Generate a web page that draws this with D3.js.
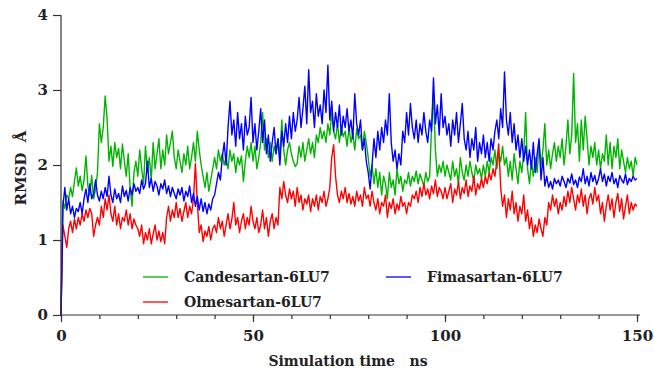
<!DOCTYPE html>
<html>
<head>
<meta charset="utf-8">
<script src="https://cdn.jsdelivr.net/npm/d3@7"></script>
<style>
  body { margin: 0; background: #fff; }
  text { font-family: "DejaVu Serif", serif; font-weight: bold; fill: #222; }
</style>
</head>
<body>
<svg id="chart" width="654" height="369"></svg>
<script>
// RMSD traces, one value every 0.5 ns (rows = 10 ns)
const step = 0.5;

const candesartan = [
  0, 1.52, 1.42, 1.6, 1.55, 1.7, 1.58, 1.78, 1.96, 1.72, 1.85, 1.66, 1.8, 2.12, 1.72, 1.6, 1.86, 1.55, 1.68, 1.9,
  2.55, 2.3, 2.5, 2.92, 2.62, 2.05, 2.25, 1.98, 2.3, 2.1, 2.22, 1.95, 2.28, 2.05, 1.85, 2.15, 1.7, 1.45, 1.9, 2.05,
  1.85, 2.2, 1.95, 1.75, 2.25, 1.9, 2.1, 1.8, 2.3, 1.95, 2.15, 2.35, 1.95, 2.2, 2.0, 2.4, 2.15, 2.3, 2.45, 2.1,
  1.95, 2.2, 2.05, 1.9, 2.15, 2.0, 2.25, 1.95, 2.1, 2.3, 2.05, 2.45, 2.2, 2.0, 1.85, 1.7, 1.9, 1.65, 1.8, 1.95,
  2.1, 1.95, 2.2, 2.05, 2.15, 2.0, 2.1, 1.95, 2.2, 2.05, 2.15, 1.9, 2.1, 2.0, 2.12, 1.78, 2.05, 2.25, 2.1, 2.3,
  2.05, 2.25, 1.95, 2.1, 2.3, 2.7, 2.2, 2.35, 2.1, 2.3, 2.05, 2.25, 2.15, 2.35, 2.1, 2.6, 2.2, 2.0, 2.2, 2.3,
  2.15, 2.05, 1.98, 2.02, 2.25, 2.1, 2.3, 2.05, 2.2, 2.35, 2.15, 2.3, 2.1, 2.4, 2.3, 2.5, 2.35, 2.45, 2.3, 2.55,
  2.4, 2.7, 2.45, 2.35, 2.55, 2.3, 2.5, 2.38, 2.45, 2.25, 2.5, 2.3, 2.42, 2.2, 2.48, 2.35, 2.4, 2.2, 2.45, 2.3,
  2.1, 1.85, 2.0, 1.75, 1.95, 1.7, 1.9, 1.6, 1.85, 1.75, 1.55, 1.9, 1.7, 1.8, 1.6, 1.95, 1.75, 1.85, 1.65, 1.8,
  1.75, 1.9, 1.72, 1.85, 1.78, 1.92, 1.75, 1.88, 1.8, 1.72, 1.9, 1.78, 1.85, 2.5, 2.95, 2.2, 1.85, 2.0, 1.9, 2.05,
  1.85, 2.0, 1.9, 1.8, 2.05, 1.85, 1.95, 1.75, 2.1, 1.9, 1.8, 2.0, 1.85, 2.05, 1.9, 1.78, 2.0, 1.88, 1.95, 1.82,
  2.0, 1.85, 2.05, 1.9, 2.1, 2.0, 2.2, 1.95, 2.15, 2.05, 2.25, 2.0, 2.1, 1.85, 2.05, 1.8, 2.15, 1.95, 1.75, 2.05,
  1.9, 2.15, 2.7, 1.95, 1.75, 2.05, 1.85, 2.1, 1.9, 2.3, 2.0, 2.2, 2.55, 2.0, 2.2, 1.95, 2.15, 2.3, 2.05, 2.25,
  2.1, 2.35, 2.0, 2.25, 2.6, 2.15, 2.4, 3.22, 2.3, 2.55, 2.05, 2.6, 2.2, 2.65, 2.35, 2.0, 2.25, 2.1, 2.3, 2.0,
  2.2, 1.95, 2.15, 2.05, 2.4, 2.0, 2.3, 1.95, 2.25, 2.1, 2.35, 1.95, 2.2, 2.05, 1.9, 2.1, 1.95, 2.05, 1.85, 2.1,
  2.0
];

const fimasartan = [
  0, 1.45, 1.7, 1.4, 1.55, 1.35, 1.45, 1.3, 1.42, 1.38, 1.5, 1.35, 1.55, 1.68, 1.5, 1.75, 1.55, 1.62, 1.8, 1.6,
  1.52, 1.65, 1.55, 1.7, 1.58, 1.85, 1.6, 1.5, 1.68, 1.55, 1.62, 1.5, 1.72, 1.58, 1.66, 1.52, 1.7, 1.6, 1.75, 1.65,
  1.7, 1.62, 1.8, 1.68, 1.75, 2.05, 1.7, 1.82, 1.65, 1.78, 1.72, 1.6, 1.75, 1.68, 1.8, 1.62, 1.72, 1.58, 1.7, 1.62,
  1.55, 1.68, 1.6, 1.7, 1.52, 1.65, 1.58, 1.72, 1.5, 1.62, 1.45, 1.58, 1.4, 1.55, 1.38, 1.5, 1.35, 1.48, 1.4, 1.55,
  1.6, 1.75, 1.9, 1.8, 2.1, 2.3, 2.0, 2.5, 2.85, 2.4, 2.6, 2.25, 2.7, 2.35, 2.55, 2.2, 2.65, 2.4, 2.5, 2.9,
  2.3, 2.55, 2.2, 2.45, 2.75, 2.3, 2.6, 2.15, 2.4, 2.05, 2.3, 2.5, 2.15, 2.35, 2.0, 2.45, 2.25, 2.55, 2.3, 2.65,
  2.35, 2.7, 2.45, 2.6, 2.9, 2.5, 2.75, 3.05, 2.55, 3.27, 2.7, 2.85, 2.5, 2.95, 2.65, 2.8, 2.55, 3.0, 2.7, 3.33,
  2.6, 2.85, 2.45, 2.7, 2.5, 2.8, 2.4, 2.65, 2.5, 2.75, 2.45, 2.6, 2.35, 2.95, 2.55, 2.4, 2.6, 2.2, 2.35, 2.05,
  1.9, 1.68, 2.0, 2.35, 2.1, 2.45, 2.2, 2.5, 2.3, 2.6, 2.4, 2.95, 2.3, 2.05, 2.2, 1.95, 2.15, 2.0, 2.45, 2.3,
  2.7, 2.4, 2.82, 2.5, 2.35, 2.6, 2.3, 2.55, 2.4, 2.7, 2.45, 2.3, 2.6, 2.45, 3.16, 2.55, 2.8, 2.4, 2.95, 2.5,
  2.65, 2.4, 2.55, 2.25, 2.6, 2.4, 2.7, 2.3, 2.55, 2.82, 2.35, 2.2, 2.45, 2.1, 2.35, 2.2, 2.5, 2.05, 2.3, 2.15,
  2.4, 2.1, 2.3, 2.05, 2.35, 2.2, 2.45, 2.6, 2.35, 2.75, 2.5, 3.24, 2.6, 2.4, 2.7, 2.3, 2.55, 2.2, 2.4, 2.1,
  2.35, 2.05, 2.25, 2.0, 2.2, 1.95, 2.3, 1.9, 2.15, 2.35, 1.8, 2.1, 1.72, 1.85, 1.7, 1.78, 1.68, 1.82, 1.75, 1.8,
  1.72, 1.85, 1.78, 1.7, 1.82, 1.76, 1.88, 1.74, 1.8, 1.7, 1.84, 1.78, 1.95, 1.75, 1.85, 1.72, 1.9, 1.78, 1.86, 1.74,
  1.82, 1.95, 1.78, 1.88, 1.72, 1.85, 1.78, 1.9, 1.75, 1.82, 1.7, 1.86, 1.8, 1.76, 1.88, 1.74, 1.82, 1.78, 1.85, 1.8,
  1.82
];

const olmesartan = [
  0, 1.2, 1.05, 0.9, 1.15, 1.25, 1.1, 1.28, 1.15, 1.3, 1.2, 1.35, 1.25, 1.4, 1.3, 1.42, 1.35, 1.05, 1.2, 1.3,
  1.2, 1.45, 1.3, 1.55, 1.4, 1.6, 1.35, 1.25, 1.45, 1.2, 1.35, 1.15, 1.3, 1.25, 1.4, 1.2, 1.35, 1.15, 1.28, 1.2,
  1.15, 1.05, 1.2, 0.95, 1.1, 1.0, 1.15, 0.95, 1.08, 1.2, 1.0, 1.12, 0.98, 1.1, 0.95, 1.3, 1.45, 1.25, 1.4, 1.3,
  1.5, 1.3, 1.42, 1.25, 1.38, 1.5, 1.3, 1.45, 1.35, 1.55, 2.02, 1.5, 1.1, 1.2, 0.98, 1.12, 1.05, 1.18, 1.0, 1.15,
  1.2, 1.1, 1.3, 1.15, 1.25, 1.05, 1.2, 1.35, 1.15, 1.28, 1.5, 1.2, 1.3, 1.1, 1.25, 1.35, 1.15, 1.3, 1.2, 1.45,
  1.25, 1.15, 1.3, 1.1, 1.2, 1.4, 1.15, 1.3, 1.05, 1.25, 1.35, 1.15, 1.3, 1.2, 1.7, 1.55, 1.78, 1.6, 1.5, 1.68,
  1.55, 1.65, 1.45, 1.7, 1.5, 1.6, 1.4, 1.55, 1.48, 1.6, 1.38, 1.55, 1.45, 1.6, 1.4, 1.58, 1.5, 1.65, 1.45, 1.55,
  1.7, 2.1, 2.27, 1.85, 1.6, 1.5, 1.65, 1.55, 1.7, 1.5, 1.62, 1.48, 1.58, 1.45, 1.65, 1.52, 1.6, 1.45, 1.7, 1.55,
  1.6, 1.45, 1.65, 1.5, 1.4, 1.55, 1.35, 1.5, 1.45, 1.6, 1.3, 1.5, 1.42, 1.55, 1.35, 1.48, 1.4, 1.58, 1.45, 1.5,
  1.35, 1.5, 1.45, 1.6, 1.55, 1.65, 1.5, 1.7, 1.58, 1.75, 1.6, 1.68, 1.55, 1.72, 1.62, 1.8, 1.58, 1.7, 1.65, 1.55,
  1.7, 1.55, 1.65, 1.75, 1.5, 1.68, 1.6, 1.78, 1.55, 1.7, 1.62, 1.8, 1.58, 1.72, 1.65, 1.85, 1.6, 1.75, 1.68, 1.82,
  1.7, 1.85, 1.75, 1.9, 1.8, 1.95, 1.85, 2.05, 2.28, 1.7, 1.45, 1.6, 1.3, 1.55, 1.4, 1.65, 1.35, 1.5, 1.25, 1.45,
  1.35, 1.6, 1.25, 1.4, 1.15, 1.3, 1.05, 1.2, 1.1, 1.28, 1.15, 1.05, 1.3, 1.2, 1.5, 1.4, 1.6, 1.45, 1.55, 1.35,
  1.5, 1.4, 1.58, 1.45, 1.65, 1.5, 1.7, 1.55, 1.4, 1.6, 1.5, 1.68, 1.45, 1.6, 1.35, 1.55, 1.62, 1.48, 1.7, 1.52,
  1.6, 1.35, 1.5, 1.25, 1.45, 1.6, 1.4, 1.55, 1.3, 1.5, 1.62, 1.38, 1.55, 1.28, 1.45, 1.6, 1.35, 1.5, 1.4, 1.48,
  1.45
];

const seriesNames = ['Candesartan-6LU7', 'Olmesartan-6LU7', 'Fimasartan-6LU7'];
const seriesColors = ['#00b400', '#ff0000', '#0000ff'];
const seriesValues = [candesartan, olmesartan, fimasartan];

const xTicks = [0, 50, 100, 150];
const xMinorTicks = d3.range(0, 151, 10);
const yTicks = [0, 1, 2, 3, 4];

const margin = { top: 15, right: 17, bottom: 54, left: 61 };
const width = 654 - margin.left - margin.right;
const height = 369 - margin.top - margin.bottom;

const svg = d3.select('#chart');
const g = svg.append('g')
  .attr('transform', 'translate(' + margin.left + ',' + margin.top + ')');

const x = d3.scaleLinear().domain([0, 150]).range([0, 576]);
const y = d3.scaleLinear().domain([0, 4]).range([height, 0]);

// lines
const line = d3.line()
  .x((d, i) => x(i * step))
  .y(d => y(d));

seriesValues.forEach((vals, k) => {
  g.append('path')
    .datum(vals)
    .attr('fill', 'none')
    .attr('stroke', seriesColors[k])
    .attr('stroke-width', 1.4)
    .attr('stroke-linejoin', 'round')
    .attr('d', line);
});

// x axis: minor ticks, then major ticks with labels
const xAxisG = g.append('g').attr('transform', 'translate(0,' + height + ')');
xAxisG.append('g')
  .call(d3.axisBottom(x).tickValues(xMinorTicks).tickSize(4).tickFormat(''))
  .call(a => a.select('.domain').remove());
xAxisG.append('g')
  .call(d3.axisBottom(x).tickValues(xTicks).tickSize(7).tickPadding(8).tickFormat(d3.format('d')))
  .call(a => a.select('.domain').attr('d', 'M0,0H' + (width + 3)));
xAxisG.selectAll('text').attr('font-size', 15).style('fill', '#222');
xAxisG.selectAll('line, path').attr('stroke', '#333').attr('stroke-width', 1.2);

// y axis
const yAxisG = g.append('g')
  .call(d3.axisLeft(y).tickValues(yTicks).tickSize(8).tickPadding(5).tickFormat(d3.format('d')));
yAxisG.select('.domain').attr('d', 'M0,0V' + height);
yAxisG.selectAll('text').attr('font-size', 15).style('fill', '#222');
yAxisG.selectAll('line, path').attr('stroke', '#333').attr('stroke-width', 1.2);

// axis titles
svg.append('text')
  .attr('x', 348)
  .attr('y', 366)
  .attr('text-anchor', 'middle')
  .attr('font-size', 14)
  .style('white-space', 'pre')
  .text('Simulation time   ns');

svg.append('text')
  .attr('transform', 'translate(26,168) rotate(-90)')
  .attr('text-anchor', 'middle')
  .attr('font-size', 15)
  .style('white-space', 'pre')
  .text('RMSD  Å');

// legend
const legendPos = [[143, 277], [143, 302], [386, 277]];
seriesNames.forEach((name, k) => {
  const lg = svg.append('g')
    .attr('transform', 'translate(' + legendPos[k][0] + ',' + legendPos[k][1] + ')');
  lg.append('line')
    .attr('x1', 0).attr('x2', 25)
    .attr('stroke', seriesColors[k])
    .attr('stroke-width', 1.3);
  lg.append('text')
    .attr('x', 41)
    .attr('dy', '0.35em')
    .attr('font-size', 14)
    .text(name);
});
</script>
</body>
</html>
